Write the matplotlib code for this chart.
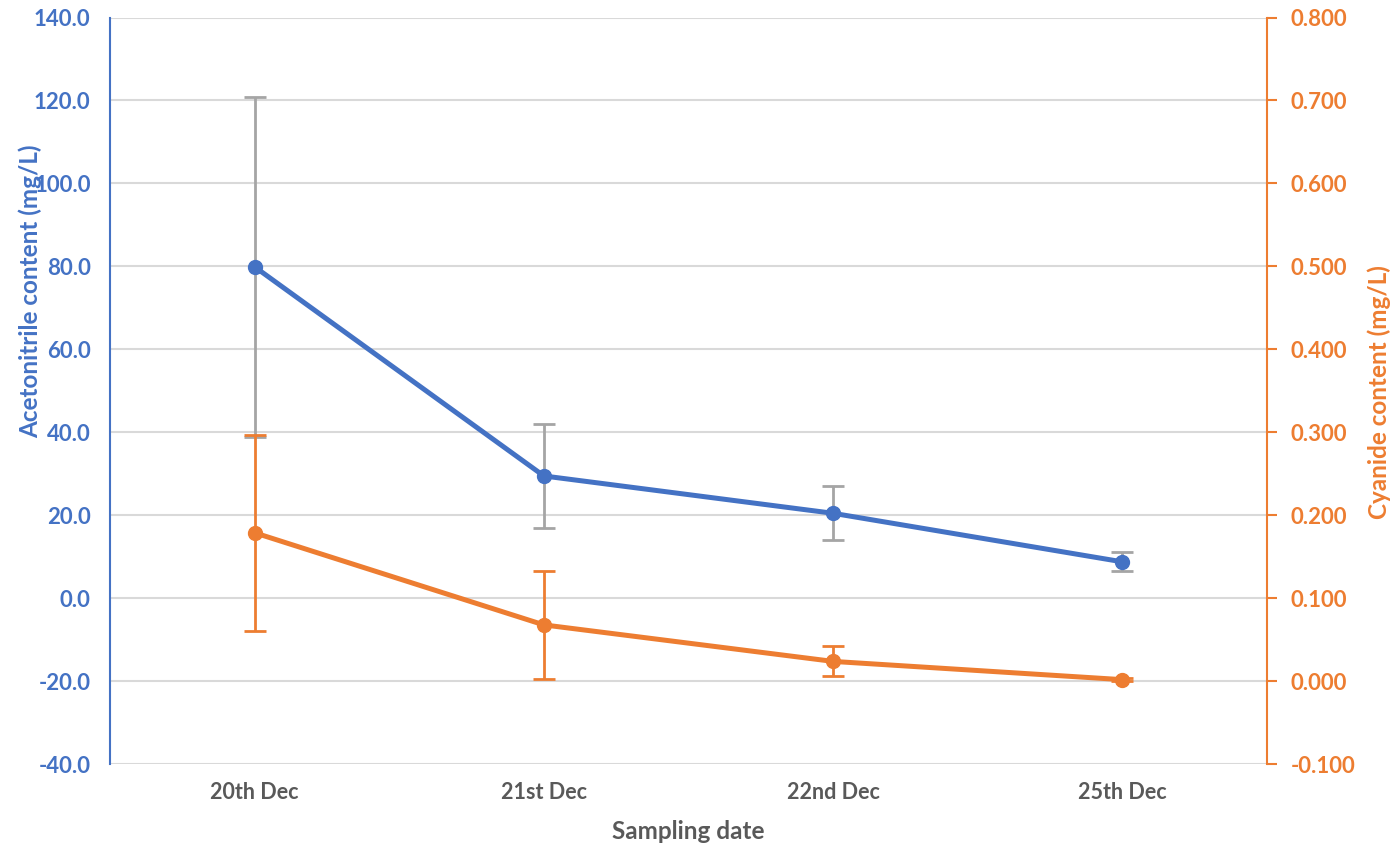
import matplotlib
matplotlib.use("Agg")
import matplotlib.pyplot as plt
from matplotlib.ticker import FormatStrFormatter

plt.rcParams['font.family'] = ['Lato', 'DejaVu Sans']

dates = ["20th Dec", "21st Dec", "22nd Dec", "25th Dec"]
acetonitrile = [79.9, 29.5, 20.5, 8.8]
acetonitrile_err = [41.0, 12.45, 6.5, 2.3]
cyanide = [0.179, 0.068, 0.024, 0.002]
cyanide_err = [0.118, 0.065, 0.018, 0.002]
left_ticks = [-40, -20, 0, 20, 40, 60, 80, 100, 120, 140]
right_ticks = [-0.1, 0.0, 0.1, 0.2, 0.3, 0.4, 0.5, 0.6, 0.7, 0.8]

BLUE = "#4472C4"
ORANGE = "#ED7D31"
GREY = "#A5A5A5"
GRID = "#D9D9D9"
TEXT = "#595959"

fig = plt.figure(figsize=(13.94, 8.48), dpi=100)
ax = fig.add_axes([110/1394, 1-764.3/848, (1267-110)/1394, (764.3-17.5)/848])
x = list(range(len(dates)))

ax.set_xlim(-0.5, 3.5)
ax.set_ylim(-40, 140)
ax.set_yticks(left_ticks)
ax.yaxis.set_major_formatter(FormatStrFormatter('%.1f'))
ax.grid(axis='y', color=GRID, lw=1.5)
ax.set_axisbelow(True)
for s in ['top', 'right', 'bottom']:
    ax.spines[s].set_visible(False)
ax.spines['left'].set_color(BLUE)
ax.spines['left'].set_linewidth(1.5)
ax.tick_params(axis='y', length=0, labelcolor=BLUE, labelsize=16, pad=14)
ax.tick_params(axis='x', length=0, labelcolor=TEXT, labelsize=15.5, pad=13)
ax.set_xticks(x)
ax.set_xticklabels(dates, fontweight='bold')
for t in ax.get_yticklabels():
    t.set_fontweight('bold')

ax.errorbar(x, acetonitrile, yerr=acetonitrile_err, color=BLUE, lw=3.6,
            marker='o', ms=10, ecolor=GREY, elinewidth=2, capsize=8, capthick=2, zorder=3)
ax.set_xlabel("Sampling date", color=TEXT, fontsize=17.5, fontweight='bold', labelpad=12)
ax.set_ylabel("Acetonitrile content (mg/L)", color=BLUE, fontsize=17.5, fontweight='bold')
ax.yaxis.set_label_coords(-0.0588, 0.634)

ax2 = ax.twinx()
ax2.set_ylim(-0.1, 0.8)
ax2.set_yticks(right_ticks)
ax2.yaxis.set_major_formatter(FormatStrFormatter('%.3f'))
for s in ['top', 'left', 'bottom']:
    ax2.spines[s].set_visible(False)
ax2.spines['right'].set_color(ORANGE)
ax2.spines['right'].set_linewidth(1.5)
ax2.tick_params(axis='y', length=7, width=1.5, color=ORANGE, labelcolor=ORANGE, labelsize=16, pad=10)
for t in ax2.get_yticklabels():
    t.set_fontweight('bold')
ax2.errorbar(x, cyanide, yerr=cyanide_err, color=ORANGE, lw=3.6,
             marker='o', ms=10, ecolor=ORANGE, elinewidth=2, capsize=8, capthick=2, zorder=3)
ax2.set_ylabel("Cyanide content (mg/L)", color=ORANGE, fontsize=17.5, fontweight='bold')
ax2.yaxis.set_label_coords(1.0865, 0.498)

fig.savefig("out.png", dpi=100)
